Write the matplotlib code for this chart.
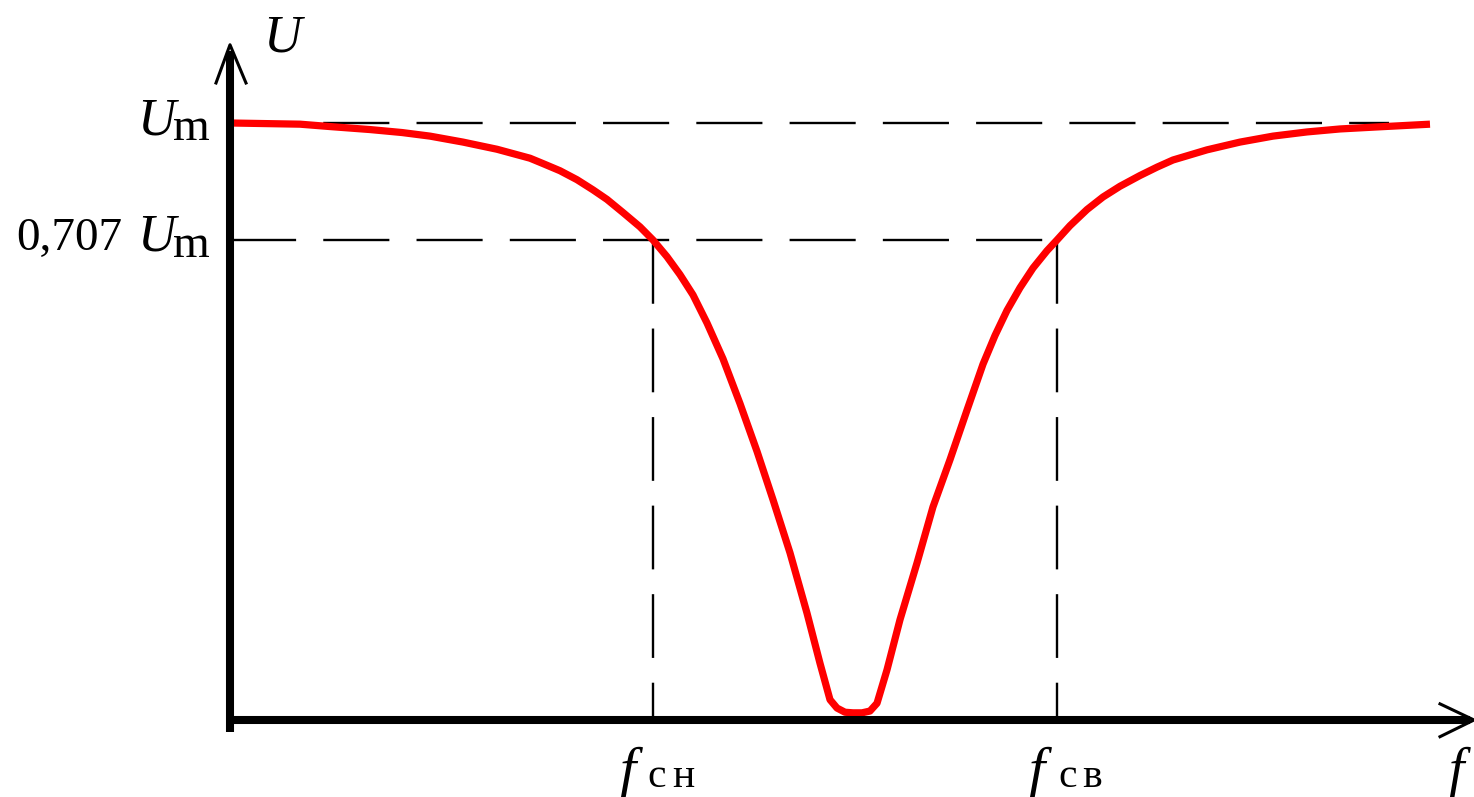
import matplotlib
matplotlib.use("Agg")
import matplotlib.pyplot as plt

# Frequency response of a band-stop filter (normalised units: U / Um, f in arbitrary units)
freq = [0.00, 0.70, 1.00, 1.40, 1.72, 2.00, 2.33, 2.67, 3.00, 3.13, 3.30, 3.47,
        3.63, 3.77, 3.93, 4.10, 4.23, 4.37, 4.50, 4.63, 4.77, 4.93, 5.10, 5.27,
        5.43, 5.60, 5.77, 5.90, 6.00, 6.07, 6.15, 6.23, 6.32, 6.40, 6.47, 6.57,
        6.70, 6.87, 7.03, 7.20, 7.37, 7.53, 7.65, 7.77, 7.90, 8.03, 8.17, 8.27,
        8.40, 8.57, 8.73, 8.90, 9.10, 9.27, 9.43, 9.77, 10.10, 10.43, 10.77,
        11.10, 11.43, 12.00]
voltage = [1.000, 0.998, 0.994, 0.989, 0.984, 0.978, 0.968, 0.956, 0.941, 0.932,
           0.920, 0.905, 0.888, 0.872, 0.850, 0.826, 0.804, 0.776, 0.746, 0.712,
           0.665, 0.605, 0.530, 0.450, 0.369, 0.280, 0.179, 0.095, 0.034, 0.020,
           0.013, 0.012, 0.012, 0.015, 0.028, 0.084, 0.168, 0.263, 0.357, 0.436,
           0.519, 0.596, 0.644, 0.686, 0.724, 0.757, 0.786, 0.804, 0.828, 0.855,
           0.876, 0.894, 0.912, 0.926, 0.938, 0.955, 0.968, 0.978, 0.985, 0.990,
           0.993, 0.998]

u_max = 1.0          # Um level
u_cut = 0.804        # level marked "0,707 Um" (schematic height)
f_low = 4.23         # f_сн
f_high = 8.27        # f_св
f_axis_end = 12.44
u_axis_end = 1.131
um_line_end = 11.59

fig = plt.figure(figsize=(14.74, 7.97), dpi=100)
ax = fig.add_axes([0, 0, 1, 1])
ax.set_xlim(-2.30, 12.44)
ax.set_ylim(-0.129, 1.206)
ax.axis("off")

lw_d = 1.7
dash = (0, (28, 11.5))
dash_v = (0, (27, 10.5))

# reference levels
ax.plot([0, um_line_end], [u_max, u_max], color="black", lw=lw_d, linestyle=dash, zorder=2)
ax.plot([0, f_high], [u_cut, u_cut], color="black", lw=lw_d, linestyle=dash, zorder=2)
for fc in (f_low, f_high):
    ax.plot([fc, fc], [u_cut, 0], color="black", lw=lw_d, linestyle=dash_v, zorder=2)

# response curve
ax.plot(freq, voltage, color="#ff0000", lw=5.2, solid_capstyle="butt",
        solid_joinstyle="round", zorder=3)

# axes with arrows
ax.plot([0, 0], [-0.02, u_axis_end - 0.01], color="black", lw=5.8,
        solid_capstyle="butt", zorder=4)
ax.plot([0, f_axis_end - 0.04], [0, 0], color="black", lw=5.8,
        solid_capstyle="butt", zorder=4)
ax.plot([-0.14, 0, 0.16], [u_axis_end - 0.064, u_axis_end, u_axis_end - 0.064],
        color="black", lw=2.2, zorder=4)
ax.plot([f_axis_end - 0.34, f_axis_end, f_axis_end - 0.34], [0.027, 0, -0.028],
        color="black", lw=2.2, zorder=4)

serif_it = dict(family="Liberation Serif", style="italic", color="black")
serif = dict(family="Liberation Serif", color="black")

# axis names
ax.text(0.33, 1.119, "U", fontsize=38, ha="left", va="baseline", **serif_it)
ax.text(12.18, -0.112, "f", fontsize=40, ha="left", va="baseline", **serif_it)

# y-axis level labels
ax.text(-0.93, 0.980, "U", fontsize=38, ha="left", va="baseline", **serif_it)
ax.text(-0.20, 0.971, "m", fontsize=34, ha="right", va="baseline", **serif)
ax.text(-2.14, 0.787, "0,707", fontsize=34, ha="left", va="baseline", **serif)
ax.text(-0.93, 0.787, "U", fontsize=38, ha="left", va="baseline", **serif_it)
ax.text(-0.20, 0.776, "m", fontsize=34, ha="right", va="baseline", **serif)

# cut-off frequency labels (letters spaced apart)
ax.text(f_low - 0.34, -0.112, "f", fontsize=42, ha="left", va="baseline", **serif_it)
ax.text(f_low - 0.06, -0.112, "с", fontsize=30, ha="left", va="baseline", **serif)
ax.text(f_low + 0.19, -0.112, "н", fontsize=30, ha="left", va="baseline", **serif)
ax.text(f_high - 0.29, -0.112, "f", fontsize=42, ha="left", va="baseline", **serif_it)
ax.text(f_high + 0.01, -0.112, "с", fontsize=30, ha="left", va="baseline", **serif)
ax.text(f_high + 0.25, -0.112, "в", fontsize=30, ha="left", va="baseline", **serif)

fig.savefig("out.png", dpi=100, facecolor="white")
